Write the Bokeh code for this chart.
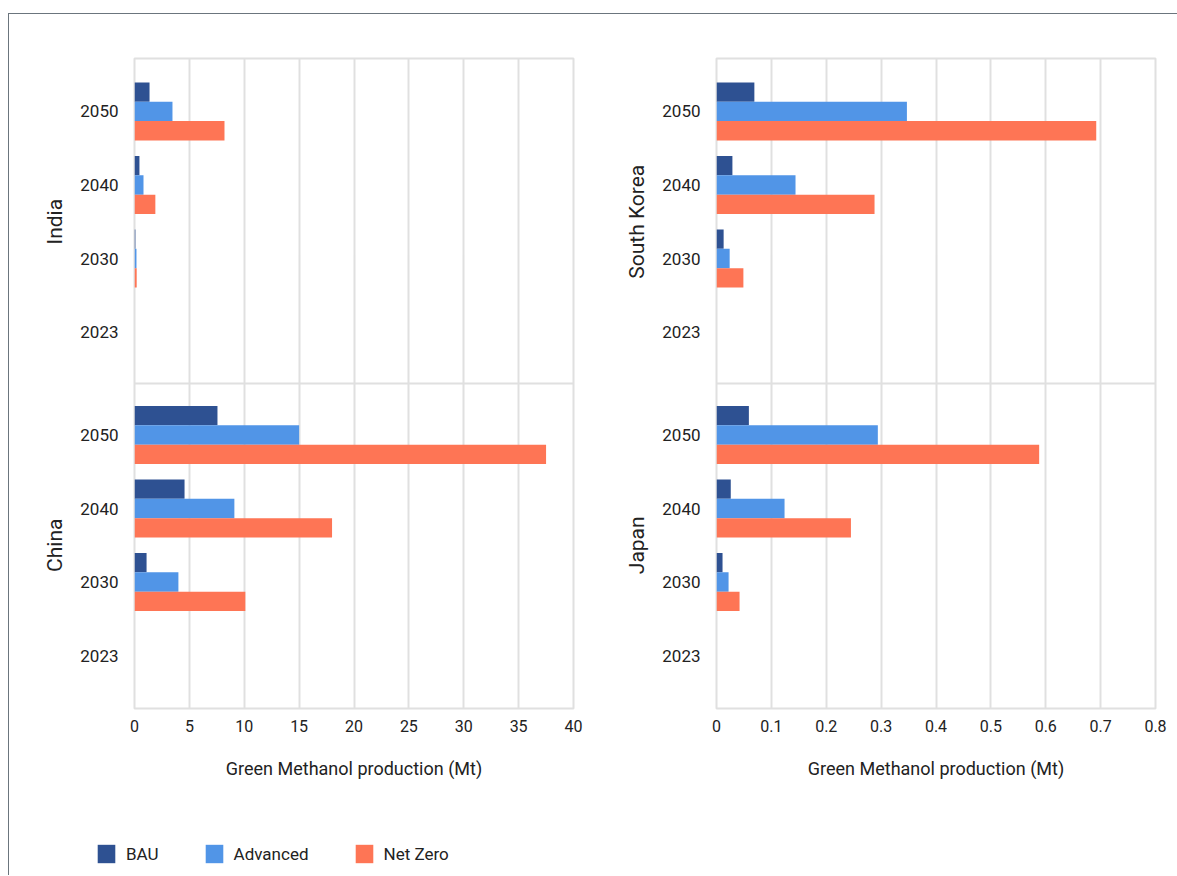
from bokeh.plotting import figure
from bokeh.models import (ColumnDataSource, FactorRange, Range1d, FixedTicker, Span,
                          Legend, LegendItem)
from bokeh.transform import dodge
from bokeh.layouts import row, column
from bokeh.embed import file_html
from bokeh.resources import INLINE

# ---------------- data ----------------
years = ["2023", "2030", "2040", "2050"]
series = ["BAU", "Advanced", "Net Zero"]
colors = ["#2e5192", "#5195e7", "#fe7555"]

india_bau = [0.0, 0.08, 0.45, 1.37]
india_adv = [0.0, 0.18, 0.82, 3.46]
india_nz = [0.0, 0.20, 1.90, 8.20]

china_bau = [0.0, 1.10, 4.56, 7.56]
china_adv = [0.0, 4.00, 9.10, 15.00]
china_nz = [0.0, 10.10, 18.00, 37.50]

korea_bau = [0.0, 0.013, 0.029, 0.069]
korea_adv = [0.0, 0.024, 0.144, 0.347]
korea_nz = [0.0, 0.049, 0.288, 0.692]

japan_bau = [0.0, 0.011, 0.026, 0.059]
japan_adv = [0.0, 0.022, 0.124, 0.294]
japan_nz = [0.0, 0.042, 0.245, 0.588]

left_ticks = [0, 5, 10, 15, 20, 25, 30, 35, 40]
right_ticks = [0, 0.1, 0.2, 0.3, 0.4, 0.5, 0.6, 0.7, 0.8]
x_title = "Green Methanol production (Mt)"

FONT = "Roboto"
TEXT = "#222222"
GRID = "#e0e0e0"
BAR_H = 0.263


def make_panel(regions, bau, adv, nz, ticks, width, bl, br):
    factors = [(r, y) for r in regions for y in years]
    yr = FactorRange(*factors, group_padding=0.4, range_padding=0.22,
                     range_padding_units="absolute")
    p = figure(width=width, height=781, y_range=yr,
               x_range=Range1d(ticks[0], ticks[-1]),
               output_backend="svg", toolbar_location=None,
               min_border_left=bl, min_border_right=br,
               min_border_top=44, min_border_bottom=87)
    src = ColumnDataSource(dict(y=factors, bau=bau, adv=adv, nz=nz))
    for col, off, c in (("bau", BAR_H, colors[0]), ("adv", 0.0, colors[1]),
                        ("nz", -BAR_H, colors[2])):
        p.hbar(y=dodge("y", off, range=yr), left=0, right=col, height=BAR_H,
               source=src, fill_color=c, line_color=None)

    tk = FixedTicker(ticks=ticks)
    p.xaxis.ticker = tk
    p.xgrid.ticker = tk
    p.xgrid.grid_line_color = GRID
    p.xgrid.grid_line_width = 2
    p.ygrid.grid_line_color = None
    p.outline_line_color = GRID
    p.outline_line_width = 2
    p.add_layout(Span(location=4.2, dimension="width", line_color=GRID,
                      line_width=2))

    xa = p.xaxis[0]
    xa.axis_line_color = None
    xa.major_tick_line_color = None
    xa.minor_tick_line_color = None
    xa.major_label_text_font = FONT
    xa.major_label_text_font_size = "16px"
    xa.major_label_text_color = TEXT
    xa.major_label_standoff = 5
    xa.axis_label = x_title
    xa.axis_label_text_font = FONT
    xa.axis_label_text_font_size = "18px"
    xa.axis_label_text_font_style = "normal"
    xa.axis_label_text_color = TEXT
    xa.axis_label_standoff = 23

    ya = p.yaxis[0]
    ya.axis_line_color = None
    ya.major_tick_line_color = None
    ya.minor_tick_line_color = None
    ya.separator_line_color = None
    ya.major_label_text_font = FONT
    ya.major_label_text_font_size = "17px"
    ya.major_label_text_color = TEXT
    ya.major_label_standoff = 10
    ya.group_text_font = FONT
    ya.group_text_font_size = "21px"
    ya.group_text_font_style = "normal"
    ya.group_text_color = TEXT
    return p


pl = make_panel(["China", "India"], china_bau + india_bau,
                china_adv + india_adv, china_nz + india_nz,
                left_ticks, 597, 125, 33)
pr = make_panel(["Japan", "South Korea"], japan_bau + korea_bau,
                japan_adv + korea_adv, japan_nz + korea_nz,
                right_ticks, 563, 110, 14)

# ---------------- legend ----------------
pleg = figure(width=1160, height=80, x_range=Range1d(0, 1), y_range=Range1d(0, 1),
              output_backend="svg", toolbar_location=None, min_border=0,
              x_axis_location=None, y_axis_location=None)
pleg.outline_line_color = None
pleg.grid.visible = False
items = []
for s, c in zip(series, colors):
    # legend-only renderer: a zero-length bar, so nothing shows in the plot
    r = pleg.hbar(y=[0.5], left=[0], right=[0], height=0.1, fill_color=c,
                  line_color=None)
    items.append(LegendItem(label=s, renderers=[r]))
legend = Legend(items=items, orientation="horizontal", location=(86, 10),
                glyph_width=22, glyph_height=23, label_standoff=9, spacing=44,
                padding=0, margin=0, border_line_color=None,
                background_fill_alpha=0, label_text_font=FONT,
                label_text_font_size="17px", label_text_color=TEXT,
                label_height=23)
pleg.add_layout(legend)

layout = column(row(pl, pr), pleg, margin=(13, 0, 0, 8), width=1169,
                styles={"border-top": "1px solid #6b757d",
                        "border-left": "1px solid #6b757d"})

open("out.html", "w").write(file_html(layout, INLINE))
